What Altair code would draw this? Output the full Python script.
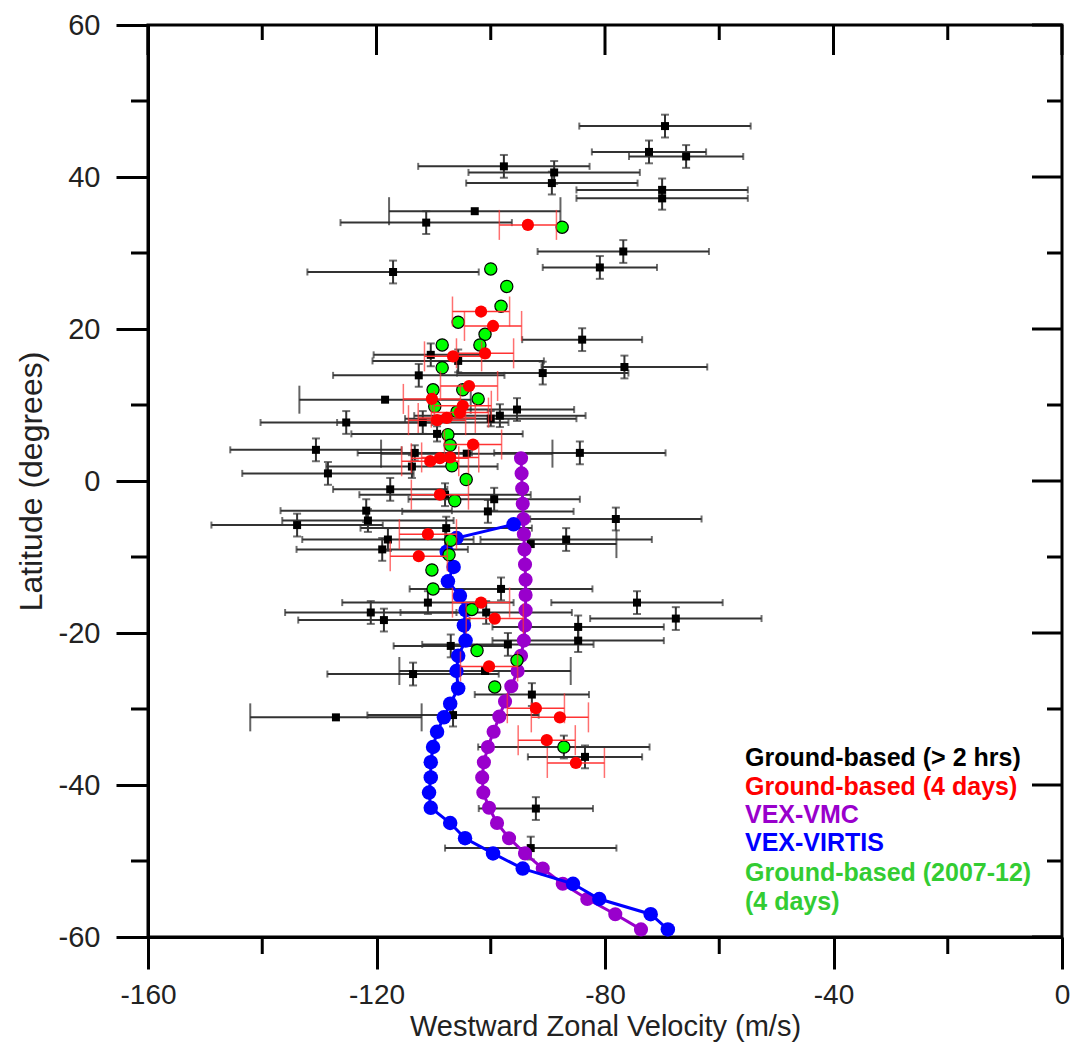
import altair as alt
import pandas as pd

# ---------------- data ----------------
# Ground-based (> 2 hrs): velocity, latitude, x error, y error, tall-cap flag
black_vel = [-69.5, -72.3, -65.8, -97.7, -88.9, -89.3, -70.0, -70.0, -102.8, -111.3,
             -76.8, -80.9, -117.1, -84.0, -76.6, -90.9, -110.5, -105.7, -112.6, -118.5,
             -95.4, -98.4, -100.0, -125.3, -111.9, -109.4, -130.6, -84.4, -113.3, -104.2,
             -113.8, -128.5, -117.6, -108.0, -99.4, -121.8, -100.5, -78.1, -133.9, -121.5,
             -107.8, -118.0, -86.8, -93.0, -119.0, -98.2, -74.4, -111.0, -121.0, -100.8,
             -118.7, -67.6, -84.7, -84.7, -107.0, -97.0, -113.6, -101.0, -92.8, -127.1,
             -106.6, -83.5, -87.2, -92.1, -93.0]
black_lat = [46.7, 43.3, 42.7, 41.4, 40.6, 39.2, 38.3, 37.2, 35.5, 34.0,
             30.2, 28.1, 27.5, 18.6, 15.0, 14.2, 16.6, 15.8, 13.9, 10.7,
             9.4, 8.6, 8.2, 7.7, 7.7, 6.2, 4.1, 3.7, 3.7, 3.6,
             1.9, 1.0, -1.1, -1.8, -2.4, -3.9, -4.0, -5.0, -5.8, -5.2,
             -6.2, -7.7, -7.7, -8.3, -9.0, -14.2, -16.0, -16.0, -17.3, -17.3,
             -18.3, -18.1, -19.2, -21.0, -21.7, -21.5, -25.4, -25.0, -28.1, -31.1,
             -30.8, -36.3, -35.0, -43.1, -48.3]
black_xerr = [15, 10, 10, 15, 15, 15, 15, 15, 15, 15,
              15, 10, 15, 10.5, 14.5, 15, 10, 15, 15, 15,
              10, 15, 15, 15, 15, 15, 15, 15, 10, 15,
              15, 15, 10, 15, 15, 15, 15, 15, 15, 15,
              15, 15, 15, 15, 15, 16, 15, 15, 15, 15,
              15, 15, 15, 15, 10, 15, 15, 15, 10, 15,
              15, 10, 15, 10, 15]
black_yerr = [1.5, 1.5, 1.5, 1.5, 1.5, 1.5, 1.5, 1.5, 0, 1.5,
              1.5, 1.5, 1.5, 1.5, 1.5, 1.5, 1.5, 1.5, 1.5, 0,
              1.5, 1.5, 1.0, 1.5, 1.5, 1.0, 1.5, 1.5, 1.0, 0,
              1.5, 1.5, 1.5, 1.5, 1.5, 1.5, 1.5, 1.5, 1.5, 1.5,
              1.5, 1.5, 1.5, 0, 1.5, 1.5, 1.5, 1.5, 1.5, 1.5,
              1.5, 1.5, 1.5, 1.5, 1.5, 1.5, 1.5, 0, 1.5, 0,
              1.5, 1.5, 1.5, 1.5, 1.5]
black_tall = [0, 0, 0, 0, 0, 0, 0, 0, 1, 0,
              0, 0, 0, 0, 0, 0, 0, 0, 0, 1,
              0, 0, 0, 0, 0, 0, 0, 0, 0, 1,
              0, 0, 0, 0, 0, 0, 0, 0, 0, 0,
              0, 0, 0, 1, 0, 0, 0, 0, 0, 0,
              0, 0, 0, 0, 0, 0, 0, 1, 0, 1,
              0, 0, 0, 0, 0]

# Ground-based (4 days)
red_vel = [-93.5, -101.7, -99.6, -106.6, -101.0, -103.8, -110.3, -104.9, -105.4, -107.7,
           -109.4, -103.1, -110.6, -108.9, -107.1, -108.9, -111.0, -112.6, -101.7, -99.3,
           -100.3, -92.1, -87.9, -90.2, -85.1]
red_lat = [33.7, 22.3, 20.4, 16.4, 16.8, 12.5, 10.8, 9.9, 9.0, 8.3,
           8.0, 4.8, 2.6, 3.0, 3.1, -1.8, -7.0, -9.9, -16.0, -18.1,
           -24.4, -29.9, -31.1, -34.1, -37.1]
red_xerr = [5] * 25

# Ground-based (2007-12) (4 days)
green_vel = [-87.5, -100.0, -97.2, -98.2, -105.7, -101.0, -101.9, -108.5, -108.5, -110.1,
             -104.9, -102.2, -109.8, -105.9, -107.5, -107.1, -106.8, -104.3, -106.3, -107.0,
             -107.3, -110.3, -110.1, -103.3, -102.4, -95.4, -99.3, -87.2]
green_lat = [33.4, 27.9, 25.6, 23.0, 20.9, 19.3, 17.9, 17.9, 14.9, 12.0,
             12.0, 10.8, 9.8, 9.1, 6.1, 4.7, 2.0, 0.2, -2.6, -7.8,
             -9.7, -11.7, -14.2, -16.9, -22.3, -23.6, -27.1, -35.0]

# VEX-VMC
vmc_lat = [3, 1, -1, -3, -5, -7, -9, -11, -13, -15, -17, -19, -21, -23, -25, -27,
           -29, -31, -33, -35, -37, -39, -41, -43, -45, -47, -49, -51, -53, -55, -57, -59]
vmc_vel = [-94.7, -94.6, -94.5, -94.4, -94.3, -94.2, -94.1, -94.0, -93.9, -93.9, -93.9,
           -94.0, -94.2, -94.7, -95.3, -96.4, -97.5, -98.5, -99.5, -100.5, -101.2, -101.5,
           -101.3, -100.3, -98.9, -96.8, -94.0, -90.9, -87.4, -83.1, -78.2, -73.7]

# VEX-VIRTIS
virtis_lat = [-5.7, -7.5, -9.3, -11.3, -13.2, -15.1, -17.0, -19.0, -21.0, -23.0, -25.0,
              -27.3, -29.3, -31.1, -33.0, -35.0, -37.0, -39.0, -41.0, -43.0, -45.0, -47.0,
              -49.0, -51.0, -53.0, -55.0, -57.0, -59.0]
virtis_vel = [-96.0, -106.0, -107.7, -106.5, -107.5, -105.4, -104.4, -104.7, -104.4, -105.7,
              -106.0, -105.7, -107.1, -108.2, -109.4, -110.1, -110.5, -110.5, -110.8, -110.5,
              -107.1, -104.5, -99.6, -94.4, -85.6, -81.0, -72.0, -69.0]

x_major = [-160, -120, -80, -40, 0]
x_minor = [-140, -100, -60, -20]
y_major = [-60, -40, -20, 0, 20, 40, 60]
y_minor = [-50, -30, -10, 10, 30, 50]

legend_labels = ["Ground-based (> 2 hrs)", "Ground-based (4 days)", "VEX-VMC",
                 "VEX-VIRTIS", "Ground-based (2007-12)", "(4 days)"]
legend_colors = ["#000000", "#FF0000", "#9900CC", "#0000FF", "#33CC33", "#33CC33"]

# ---------------- chart ----------------
W, H = 914, 912
FONT = "Liberation Sans"
xs = alt.Scale(domain=[-160, 0], nice=False, zero=False)
ys = alt.Scale(domain=[-60, 60], nice=False, zero=False)

black = pd.DataFrame({"vel": black_vel, "lat": black_lat, "xerr": black_xerr,
                      "yerr": black_yerr, "tall": black_tall})
red = pd.DataFrame({"vel": red_vel, "lat": red_lat, "xerr": red_xerr})
green = pd.DataFrame({"vel": green_vel, "lat": green_lat})
vmc = pd.DataFrame({"vel": vmc_vel, "lat": vmc_lat})
virtis = pd.DataFrame({"vel": virtis_vel, "lat": virtis_lat})

x_axis = alt.Axis(values=x_major, labelExpr="datum.value + ''", tickSize=32, tickWidth=3,
                  tickColor="black", domainColor="black", domainWidth=3, grid=False,
                  labelFont=FONT, labelFontSize=28, labelColor="#222", labelPadding=12,
                  labelFlush=False, title="Westward Zonal Velocity (m/s)", titleFont=FONT,
                  titleFontSize=29, titleFontWeight="normal", titleColor="#222",
                  titlePadding=3)
y_axis = alt.Axis(values=y_major, labelExpr="datum.value + ''", tickSize=32, tickWidth=3,
                  tickColor="black", domainColor="black", domainWidth=3, grid=False,
                  labelFont=FONT, labelFontSize=29, labelColor="#222", labelPadding=16,
                  labelFlush=False, title="Latitude (degrees)", titleFont=FONT,
                  titleFontSize=32, titleFontWeight="normal", titleColor="#222",
                  titlePadding=10)

def X(f):
    return alt.X(f, scale=xs, axis=x_axis)

def Y(f):
    return alt.Y(f, scale=ys, axis=y_axis)

# black horizontal error bars
b_hbar = alt.Chart(black).transform_calculate(
    lo="datum.vel - datum.xerr", hi="datum.vel + datum.xerr"
).mark_rule(color="#333333", strokeWidth=2).encode(
    x=X("lo:Q"), x2="hi:Q", y=Y("lat:Q"))

b_caps_small = alt.Chart(black).transform_filter("datum.tall == 0").transform_calculate(
    lo="datum.vel - datum.xerr", hi="datum.vel + datum.xerr"
).transform_fold(["lo", "hi"], as_=["k", "xv"]).mark_tick(
    orient="vertical", color="#333333", size=7, thickness=2).encode(
    x=X("xv:Q"), y=Y("lat:Q"))

b_caps_tall = alt.Chart(black).transform_filter("datum.tall == 1").transform_calculate(
    lo="datum.vel - datum.xerr", hi="datum.vel + datum.xerr"
).transform_fold(["lo", "hi"], as_=["k", "xv"]).mark_tick(
    orient="vertical", color="#222222", size=28, thickness=2).encode(
    x=X("xv:Q"), y=Y("lat:Q"))

b_vbar = alt.Chart(black).transform_filter("datum.yerr > 0").transform_calculate(
    ylo="datum.lat - datum.yerr", yhi="datum.lat + datum.yerr"
).mark_rule(color="#333333", strokeWidth=2).encode(
    x=X("vel:Q"), y=Y("ylo:Q"), y2="yhi:Q")

b_vcaps = alt.Chart(black).transform_filter("datum.yerr > 0").transform_calculate(
    ylo="datum.lat - datum.yerr", yhi="datum.lat + datum.yerr"
).transform_fold(["ylo", "yhi"], as_=["k", "yv"]).mark_tick(
    orient="horizontal", color="#333333", size=8, thickness=2).encode(
    x=X("vel:Q"), y=Y("yv:Q"))

b_pts = alt.Chart(black).mark_square(color="black", size=64, opacity=1).encode(
    x=X("vel:Q"), y=Y("lat:Q"))

vmc_line = alt.Chart(vmc).mark_line(color="#9900CC", strokeWidth=3).encode(
    x=X("vel:Q"), y=Y("lat:Q"), order="lat:Q")
vmc_pts = alt.Chart(vmc).mark_circle(color="#9900CC", size=200, opacity=1).encode(
    x=X("vel:Q"), y=Y("lat:Q"))

vir_line = alt.Chart(virtis).mark_line(color="#0000FF", strokeWidth=3).encode(
    x=X("vel:Q"), y=Y("lat:Q"), order="lat:Q")
vir_pts = alt.Chart(virtis).mark_circle(color="#0000FF", size=210, opacity=1).encode(
    x=X("vel:Q"), y=Y("lat:Q"))

g_pts = alt.Chart(green).mark_point(shape="circle", filled=True, fill="#00FF00",
                                    stroke="black", strokeWidth=1.2, size=150,
                                    opacity=1).encode(x=X("vel:Q"), y=Y("lat:Q"))

r_bar = alt.Chart(red).transform_calculate(
    lo="datum.vel - datum.xerr", hi="datum.vel + datum.xerr"
).mark_rule(color="#FF3333", strokeWidth=1.5).encode(
    x=X("lo:Q"), x2="hi:Q", y=Y("lat:Q"))
r_caps = alt.Chart(red).transform_calculate(
    lo="datum.vel - datum.xerr", hi="datum.vel + datum.xerr"
).transform_fold(["lo", "hi"], as_=["k", "xv"]).mark_tick(
    orient="vertical", color="#FF3333", size=30, thickness=1.5).encode(
    x=X("xv:Q"), y=Y("lat:Q"))
r_pts = alt.Chart(red).mark_circle(color="#FF0000", size=150, opacity=1).encode(
    x=X("vel:Q"), y=Y("lat:Q"))

# extra tick marks (minor ticks, and inward ticks on the right and top)
tick_style = dict(color="black", strokeWidth=3)
left_minor = alt.Chart(pd.DataFrame({"v": y_minor})).mark_rule(**tick_style).encode(
    y=Y("v:Q"), x=alt.value(-17), x2=alt.value(0))
bottom_minor = alt.Chart(pd.DataFrame({"v": x_minor})).mark_rule(**tick_style).encode(
    x=X("v:Q"), y=alt.value(H), y2=alt.value(H + 17))
right_major = alt.Chart(pd.DataFrame({"v": y_major})).mark_rule(**tick_style).encode(
    y=Y("v:Q"), x=alt.value(W), x2=alt.value(W - 30))
right_minor = alt.Chart(pd.DataFrame({"v": y_minor})).mark_rule(**tick_style).encode(
    y=Y("v:Q"), x=alt.value(W), x2=alt.value(W - 15))
top_major = alt.Chart(pd.DataFrame({"v": x_major})).mark_rule(**tick_style).encode(
    x=X("v:Q"), y=alt.value(0), y2=alt.value(30))
top_minor = alt.Chart(pd.DataFrame({"v": x_minor})).mark_rule(**tick_style).encode(
    x=X("v:Q"), y=alt.value(0), y2=alt.value(15))

legend_y = [733, 762, 790, 818, 848, 877]
legend_layers = []
for lab, col, yy in zip(legend_labels, legend_colors, legend_y):
    legend_layers.append(
        alt.Chart(pd.DataFrame({"t": [lab]})).mark_text(
            align="left", baseline="middle", font=FONT, fontSize=25,
            fontWeight="bold", color=col).encode(
            x=alt.value(597), y=alt.value(yy), text="t:N"))

chart = alt.layer(
    b_hbar, b_caps_small, b_caps_tall, b_vbar, b_vcaps, b_pts,
    vmc_line, vmc_pts, vir_line, vir_pts, g_pts, r_bar, r_caps, r_pts,
    left_minor, bottom_minor, right_major, right_minor, top_major, top_minor,
    *legend_layers
).properties(
    width=W, height=H,
    autosize=alt.AutoSizeParams(type="none"),
    padding={"left": 140, "top": 17, "right": 8, "bottom": 111},
    background="white",
).configure_view(stroke="black", strokeWidth=3)

chart.save("out.html", embed_options={"renderer": "svg", "actions": False})
